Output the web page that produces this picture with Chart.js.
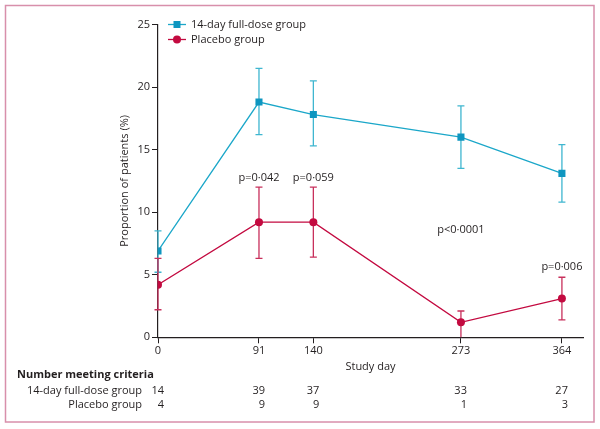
<!DOCTYPE html>
<html>
<head>
<meta charset="utf-8">
<script src="https://cdn.jsdelivr.net/npm/chart.js@4"></script>
<style>
  html, body { margin: 0; padding: 0; background: #fff; }
  #wrap { width: 600px; height: 429px; }
</style>
</head>
<body>
<div id="wrap"><canvas id="chart" width="600" height="429"></canvas></div>
<script>
// dados
var studyDays = [0, 91, 140, 273, 364];
var fullDosePct = [6.9, 18.8, 17.8, 16.0, 13.1];
var fullDoseLow = [5.2, 16.2, 15.3, 13.5, 10.8];
var fullDoseHigh = [8.5, 21.5, 20.5, 18.5, 15.4];
var placeboPct = [4.2, 9.2, 9.2, 1.2, 3.1];
var placeboLow = [2.2, 6.3, 6.4, 0, 1.4];
var placeboHigh = [6.3, 12.0, 12.0, 2.1, 4.8];
var fullDoseN = [14, 39, 37, 33, 27];
var placeboN = [4, 9, 9, 1, 3];
var pValues = ['p=0·042', 'p=0·059', 'p<0·0001', 'p=0·006'];
var pDays = [91, 140, 273, 364];
var yTicks = [0, 5, 10, 15, 20, 25];

var FONT = '"Open Sans", "Liberation Sans", sans-serif';
var TXT = '#231f20';
var CYAN = '#1ba7c9';
var CYAN_MK = '#0e96c0';
var RED = '#c30a40';

function toPoints(xs, ys) {
  return xs.map(function (x, i) { return { x: x, y: ys[i] }; });
}

// barras de erro, legenda, valores p e tabela
var extras = {
  id: 'extras',
  beforeDraw: function (chart) {
    var ctx = chart.ctx;
    ctx.save();
    ctx.strokeStyle = '#d88fab';
    ctx.lineWidth = 1.5;
    ctx.strokeRect(5.5, 5.5, 588.5, 416.5);
    ctx.restore();
  },
  beforeDatasetsDraw: function (chart) {
    var ctx = chart.ctx, xs = chart.scales.x, ys = chart.scales.y;
    var sets = [
      { low: fullDoseLow, high: fullDoseHigh, color: '#3fb6d0' },
      { low: placeboLow, high: placeboHigh, color: '#c8305c' }
    ];
    ctx.save();
    ctx.lineWidth = 1.3;
    sets.forEach(function (s) {
      ctx.strokeStyle = s.color;
      studyDays.forEach(function (d, i) {
        var px = xs.getPixelForValue(d);
        var y1 = ys.getPixelForValue(s.low[i]);
        var y2 = ys.getPixelForValue(s.high[i]);
        ctx.beginPath();
        ctx.moveTo(px, y1); ctx.lineTo(px, y2);
        ctx.moveTo(px - 3.5, y2); ctx.lineTo(px + 3.5, y2);
        if (s.low[i] > 0) { ctx.moveTo(px - 3.5, y1); ctx.lineTo(px + 3.5, y1); }
        ctx.stroke();
      });
    });
    ctx.restore();
  },
  afterDraw: function (chart) {
    var ctx = chart.ctx, xs = chart.scales.x, ys = chart.scales.y, area = chart.chartArea;
    ctx.save();
    ctx.font = '11px ' + FONT;
    ctx.fillStyle = TXT;
    ctx.textBaseline = 'middle';

    // legenda
    var items = [
      { label: chart.data.datasets[0].label, color: CYAN, mk: CYAN_MK, style: 'rect' },
      { label: chart.data.datasets[1].label, color: RED, mk: RED, style: 'circle' }
    ];
    items.forEach(function (it, i) {
      var ly = area.top + i * 15;
      var lx = area.left + 10;
      ctx.strokeStyle = it.color;
      ctx.lineWidth = 1.3;
      ctx.beginPath(); ctx.moveTo(lx, ly); ctx.lineTo(lx + 18, ly); ctx.stroke();
      ctx.fillStyle = it.mk;
      if (it.style === 'rect') {
        ctx.fillRect(lx + 9 - 3.5, ly - 3.5, 7, 7);
      } else {
        ctx.beginPath(); ctx.arc(lx + 9, ly, 4, 0, Math.PI * 2); ctx.fill();
      }
      ctx.fillStyle = TXT;
      ctx.textAlign = 'left';
      ctx.fillText(it.label, lx + 23, ly);
    });

    // valores p
    ctx.textAlign = 'center';
    var pY = [placeboHigh[0] * 0 + 12.75, 12.75, 8.6, 5.65];
    pValues.forEach(function (t, i) {
      ctx.fillText(t, xs.getPixelForValue(pDays[i]), ys.getPixelForValue(pY[i]));
    });

    // tabela de números
    var rowY = [375, 390.5, 405];
    ctx.textAlign = 'left';
    ctx.font = 'bold 11px ' + FONT;
    ctx.fillText('Number meeting criteria', 17, rowY[0]);
    ctx.font = '11px ' + FONT;
    ctx.textAlign = 'right';
    ctx.fillText(chart.data.datasets[0].label, 142, rowY[1]);
    ctx.fillText(chart.data.datasets[1].label, 142, rowY[2]);
    studyDays.forEach(function (d, i) {
      var px = xs.getPixelForValue(d) + 6;
      ctx.fillText(String(fullDoseN[i]), px, rowY[1]);
      ctx.fillText(String(placeboN[i]), px, rowY[2]);
    });
    ctx.restore();
  }
};

var ctx = document.getElementById('chart').getContext('2d');
var chart = new Chart(ctx, {
  type: 'line',
  data: {
    datasets: [
      {
        label: '14-day full-dose group',
        data: toPoints(studyDays, fullDosePct),
        borderColor: CYAN,
        backgroundColor: CYAN_MK,
        pointBackgroundColor: CYAN_MK,
        pointBorderWidth: 0,
        pointStyle: 'rect',
        pointRadius: 5,
        borderWidth: 1.3,
        tension: 0
      },
      {
        label: 'Placebo group',
        data: toPoints(studyDays, placeboPct),
        borderColor: RED,
        backgroundColor: RED,
        pointBackgroundColor: RED,
        pointBorderWidth: 0,
        pointStyle: 'circle',
        pointRadius: 4,
        borderWidth: 1.3,
        tension: 0
      }
    ]
  },
  options: {
    responsive: false,
    animation: false,
    events: [],
    layout: { padding: { left: 114, right: 17, top: 24.5, bottom: 51.7 } },
    plugins: { legend: { display: false }, tooltip: { enabled: false } },
    scales: {
      x: {
        type: 'linear',
        min: 0,
        max: 383,
        afterBuildTicks: function (scale) {
          scale.ticks = studyDays.map(function (v) { return { value: v }; });
        },
        afterFit: function (scale) { scale.height = 40; },
        grid: { display: true, drawOnChartArea: false, drawTicks: true, tickLength: 6, color: '#231f20', lineWidth: 1 },
        border: { display: true, color: '#231f20', width: 1.2 },
        ticks: { color: TXT, font: { family: FONT, size: 11 }, padding: 1, maxRotation: 0, autoSkip: false },
        title: { display: true, text: 'Study day', color: TXT, font: { family: FONT, size: 11 } }
      },
      y: {
        min: 0,
        max: 25,
        afterBuildTicks: function (scale) {
          scale.ticks = yTicks.map(function (v) { return { value: v }; });
        },
        afterFit: function (scale) { scale.width = 44; },
        grid: { display: true, drawOnChartArea: false, drawTicks: true, tickLength: 6, color: '#231f20', lineWidth: 1 },
        border: { display: true, color: '#231f20', width: 1.2 },
        ticks: { color: TXT, font: { family: FONT, size: 11 }, padding: 2 },
        title: { display: true, text: 'Proportion of patients (%)', color: TXT, font: { family: FONT, size: 11 } }
      }
    }
  },
  plugins: [extras]
});
</script>
</body>
</html>
